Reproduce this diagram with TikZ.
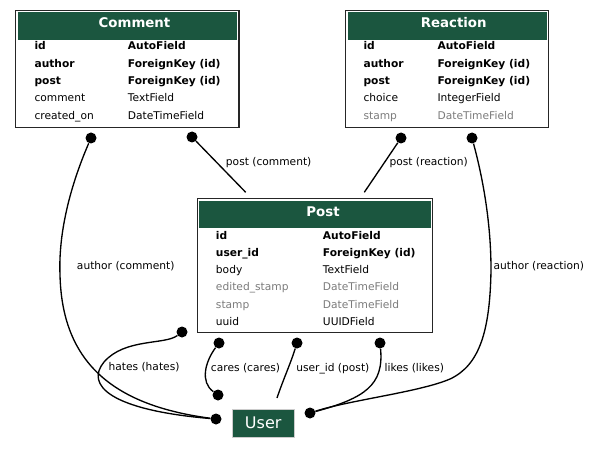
\documentclass[tikz,border=0pt]{standalone}
\usepackage{fontspec}
\setmainfont{DejaVu Sans}
\definecolor{djangogreen}{HTML}{1B563F}
\definecolor{fieldgray}{HTML}{7B7B7B}
\tikzset{
  modelbox/.style={draw=black!85, line width=1pt, rectangle, inner sep=0pt},
  headbar/.style={fill=djangogreen, rectangle, inner sep=0pt},
  headtext/.style={text=white, font=\fontsize{10}{12}\selectfont\bfseries, anchor=base, inner sep=0pt},
  keyfield/.style={font=\fontsize{8}{9.6}\selectfont\bfseries, anchor=base west, inner sep=0pt},
  plainfield/.style={font=\fontsize{8}{9.6}\selectfont, anchor=base west, inner sep=0pt},
  greyfield/.style={plainfield, text=fieldgray},
  fkdot/.style={circle, fill=black, inner sep=0pt, minimum size=8.25pt},
  relation/.style={line width=1pt},
  rellabel/.style={font=\fontsize{8}{9.6}\selectfont, anchor=base west, inner sep=0pt},
  usernode/.style={fill=djangogreen, draw=black!20, line width=0.75pt, text=white,
    font=\fontsize{12}{14}\selectfont, minimum width=46.3pt, minimum height=21pt, inner sep=0pt},
}

\begin{document}
\begin{tikzpicture}[x=0.75pt, y=-0.75pt]
    \useasboundingbox (0,0) rectangle (591,452);

    % Comment
    \node[modelbox, minimum width=167.5pt, minimum height=87.75pt] (comment) at (127.35,69.2) {};
    \node[headbar, minimum width=164.5pt, minimum height=20.6pt] (comment-head) at (127.35,26.2) {};
    \node[headtext] (comment-title) at (134.5,27.7) {Comment};
    \node[keyfield] (cm-id) at (34.3,50) {id};
    \node[keyfield] (cm-id-t) at (127.7,50) {AutoField};
    \node[keyfield] (cm-author) at (34.3,67.3) {author};
    \node[keyfield] (cm-author-t) at (127.7,67.3) {ForeignKey (id)};
    \node[keyfield] (cm-post) at (34.3,84.6) {post};
    \node[keyfield] (cm-post-t) at (127.7,84.6) {ForeignKey (id)};
    \node[plainfield] (cm-comment) at (34.3,101.9) {comment};
    \node[plainfield] (cm-comment-t) at (127.7,101.9) {TextField};
    \node[plainfield] (cm-created) at (34.3,119.2) {created\_on};
    \node[plainfield] (cm-created-t) at (127.7,119.2) {DateTimeField};

    % Reaction
    \node[modelbox, minimum width=152.25pt, minimum height=87.75pt] (reaction) at (447.2,69.2) {};
    \node[headbar, minimum width=149.25pt, minimum height=20.6pt] (reaction-head) at (447.2,26.2) {};
    \node[headtext] (reaction-title) at (453.7,27.7) {Reaction};
    \node[keyfield] (rc-id) at (363.3,50) {id};
    \node[keyfield] (rc-id-t) at (437.3,50) {AutoField};
    \node[keyfield] (rc-author) at (363.3,67.3) {author};
    \node[keyfield] (rc-author-t) at (437.3,67.3) {ForeignKey (id)};
    \node[keyfield] (rc-post) at (363.3,84.6) {post};
    \node[keyfield] (rc-post-t) at (437.3,84.6) {ForeignKey (id)};
    \node[plainfield] (rc-choice) at (363.3,101.9) {choice};
    \node[plainfield] (rc-choice-t) at (437.3,101.9) {IntegerField};
    \node[greyfield] (rc-stamp) at (363.3,119.2) {stamp};
    \node[greyfield] (rc-stamp-t) at (437.3,119.2) {DateTimeField};

    % Post
    \node[modelbox, minimum width=176.55pt, minimum height=100.5pt] (post) at (315,265.7) {};
    \node[headbar, minimum width=173.55pt, minimum height=20.7pt] (post-head) at (315,214.5) {};
    \node[headtext] (post-title) at (323,216.7) {Post};
    \node[keyfield] (ps-id) at (215.7,239.3) {id};
    \node[keyfield] (ps-id-t) at (322.7,239.3) {AutoField};
    \node[keyfield] (ps-user) at (215.7,256.5) {user\_id};
    \node[keyfield] (ps-user-t) at (322.7,256.5) {ForeignKey (id)};
    \node[plainfield] (ps-body) at (215.7,273.7) {body};
    \node[plainfield] (ps-body-t) at (322.7,273.7) {TextField};
    \node[greyfield] (ps-edited) at (215.7,290.9) {edited\_stamp};
    \node[greyfield] (ps-edited-t) at (322.7,290.9) {DateTimeField};
    \node[greyfield] (ps-stamp) at (215.7,308.1) {stamp};
    \node[greyfield] (ps-stamp-t) at (322.7,308.1) {DateTimeField};
    \node[plainfield] (ps-uuid) at (215.7,325.3) {uuid};
    \node[plainfield] (ps-uuid-t) at (322.7,325.3) {UUIDField};

    % User
    \node[usernode] (user) at (263.2,423) {User};

    % relation ends
    \node[fkdot] (cm-author-dot) at (91,138) {};
    \node[fkdot] (cm-post-dot) at (192,137) {};
    \node[fkdot] (rc-post-dot) at (401,138) {};
    \node[fkdot] (rc-author-dot) at (472,138) {};
    \node[fkdot] (ps-hates-dot) at (182,332) {};
    \node[fkdot] (ps-cares-dot) at (219,343) {};
    \node[fkdot] (ps-user-dot) at (297,343) {};
    \node[fkdot] (ps-likes-dot) at (380,343) {};
    \node[fkdot] (user-cares-dot) at (218,395) {};
    \node[fkdot] (user-left-dot) at (216,419) {};
    \node[fkdot] (user-right-dot) at (310,413) {};
    \coordinate (post-top-left) at (245.7,192.3);
    \coordinate (post-top-right) at (364.3,192.3);
    \coordinate (user-top) at (277,398);

    % relations
    \draw[relation] (cm-author-dot) .. controls (75,175) and (58,225) .. (60,275)
        .. controls (62,360) and (110,405) .. (user-left-dot);
    \draw[relation] (cm-post-dot) -- (post-top-left);
    \draw[relation] (rc-post-dot) -- (post-top-right);
    \draw[relation] (rc-author-dot) .. controls (482,175) and (491,220) .. (491,270)
        .. controls (490,330) and (480,365) .. (450,379)
        .. controls (420,392) and (350,400) .. (user-right-dot);
    \draw[relation] (ps-hates-dot) .. controls (165,345) and (125,338) .. (104,362)
        .. controls (85,385) and (110,410) .. (user-left-dot);
    \draw[relation] (ps-cares-dot) .. controls (205,362) and (200,382) .. (user-cares-dot);
    \draw[relation] (ps-user-dot) .. controls (290,365) and (283,380) .. (user-top);
    \draw[relation] (ps-likes-dot) .. controls (384,385) and (365,398) .. (user-right-dot);

    % labels
    \node[rellabel] (lbl-cm-author) at (76.7,269) {author (comment)};
    \node[rellabel] (lbl-cm-post) at (225.7,165.7) {post (comment)};
    \node[rellabel] (lbl-rc-post) at (389.3,165.7) {post (reaction)};
    \node[rellabel] (lbl-rc-author) at (493.3,269) {author (reaction)};
    \node[rellabel] (lbl-hates) at (108.3,370.7) {hates (hates)};
    \node[rellabel] (lbl-cares) at (210.7,371) {cares (cares)};
    \node[rellabel] (lbl-user) at (296,371) {user\_id (post)};
    \node[rellabel] (lbl-likes) at (384.3,371) {likes (likes)};
\end{tikzpicture}
\end{document}
